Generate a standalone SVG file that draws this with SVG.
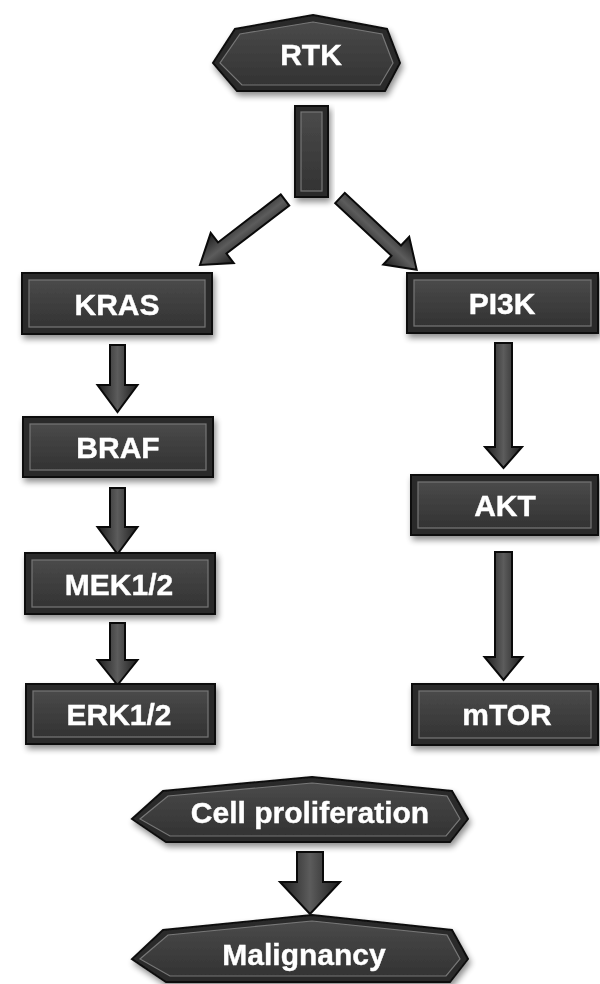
<svg xmlns="http://www.w3.org/2000/svg" width="600" height="984" viewBox="0 0 600 984">
<defs>
<filter id="sh" x="-20%" y="-20%" width="140%" height="150%">
<feGaussianBlur in="SourceAlpha" stdDeviation="3"/>
<feOffset dx="2" dy="4" result="b"/>
<feComponentTransfer><feFuncA type="linear" slope="0.45"/></feComponentTransfer>
<feMerge><feMergeNode/><feMergeNode in="SourceGraphic"/></feMerge>
</filter>
<linearGradient id="face" x1="0" y1="0" x2="0" y2="1">
<stop offset="0" stop-color="#4a4a4a"/>
<stop offset="1" stop-color="#333"/>
</linearGradient>
<linearGradient id="shaft" x1="0" y1="0" x2="1" y2="0">
<stop offset="0" stop-color="#1e1e1e"/>
<stop offset="0.5" stop-color="#5c5c5c"/>
<stop offset="1" stop-color="#1e1e1e"/>
</linearGradient>
</defs>
<style>
.frame{fill:#2b2b2b;stroke:#111;stroke-width:2}
.inner{fill:url(#face);stroke:#777;stroke-width:1.2}
.lbl{font-family:"Liberation Sans",Arial,sans-serif;font-weight:bold;font-size:30px;fill:#fff;text-anchor:middle;stroke:#fff;stroke-width:0.4}
.arr{fill:url(#shaft);stroke:#0a0a0a;stroke-width:2;stroke-linejoin:miter}
</style>
<rect width="600" height="984" fill="#fff"/>

<g id="connectors">
<g filter="url(#sh)">
<rect x="295" y="106" width="33" height="91" class="frame"/>
<rect x="301" y="112" width="21" height="79" class="inner"/>
</g>
<polygon class="arr" transform="translate(285,200) rotate(52.6)" points="-7,0 7,0 7,79 19,79 0,107 -19,79 -7,79"/>
<polygon class="arr" transform="translate(340,198) rotate(-46.9)" points="-7,0 7,0 7,77 19,77 0,105 -19,77 -7,77"/>
<polygon class="arr" transform="translate(117.5,345)" points="-7.5,0 7.5,0 7.5,40 20,40 0,67 -20,40 -7.5,40"/>
<polygon class="arr" transform="translate(117.5,488)" points="-7.5,0 7.5,0 7.5,39 20,39 0,66 -20,39 -7.5,39"/>
<polygon class="arr" transform="translate(117.5,623)" points="-7.5,0 7.5,0 7.5,37 20,37 0,62 -20,37 -7.5,37"/>
<polygon class="arr" transform="translate(503.5,343)" points="-8.5,0 8.5,0 8.5,104 18.5,104 0,125 -18.5,104 -8.5,104"/>
<polygon class="arr" transform="translate(503.5,552)" points="-8.5,0 8.5,0 8.5,105 19,105 0,128 -19,105 -8.5,105"/>
<polygon class="arr" transform="translate(310,852)" points="-13,0 13,0 13,30 30,30 0,62 -30,30 -13,30"/>
</g>

<g id="RTK" filter="url(#sh)">
<polygon class="frame" points="313,15 387,29 400,63 385,91 237,91 213,63 235,29"/>
<polygon class="inner" points="313,22 382,34 393,63 380,85 242,85 220,63 240,34"/>
<text class="lbl" x="311" y="65">RTK</text>
</g>

<g id="KRAS" filter="url(#sh)">
<rect class="frame" x="22" y="273" width="190" height="61"/>
<rect class="inner" x="29" y="280" width="176" height="47"/>
<text class="lbl" x="117" y="315">KRAS</text>
</g>
<g id="BRAF" filter="url(#sh)">
<rect class="frame" x="23" y="417" width="190" height="60"/>
<rect class="inner" x="30" y="424" width="176" height="46"/>
<text class="lbl" x="118" y="458">BRAF</text>
</g>
<g id="MEK" filter="url(#sh)">
<rect class="frame" x="25" y="553" width="190" height="61"/>
<rect class="inner" x="32" y="560" width="176" height="47"/>
<text class="lbl" x="119" y="595">MEK1/2</text>
</g>
<g id="ERK" filter="url(#sh)">
<rect class="frame" x="26" y="684" width="189" height="60"/>
<rect class="inner" x="33" y="691" width="175" height="46"/>
<text class="lbl" x="119" y="725">ERK1/2</text>
</g>
<g id="PI3K" filter="url(#sh)">
<rect class="frame" x="407" y="273" width="191" height="60"/>
<rect class="inner" x="414" y="280" width="177" height="46"/>
<text class="lbl" x="502" y="314">PI3K</text>
</g>
<g id="AKT" filter="url(#sh)">
<rect class="frame" x="411" y="475" width="187" height="60"/>
<rect class="inner" x="418" y="482" width="173" height="46"/>
<text class="lbl" x="505" y="516">AKT</text>
</g>
<g id="mTOR" filter="url(#sh)">
<rect class="frame" x="412" y="684" width="186" height="61"/>
<rect class="inner" x="419" y="691" width="172" height="47"/>
<text class="lbl" x="507" y="725">mTOR</text>
</g>

<g id="CellProliferation" filter="url(#sh)">
<polygon class="frame" points="312,777 452,791 468,819 450,842 166,842 132,819 163,791"/>
<polygon class="inner" points="312,783 447,796 460,819 446,836 170,836 140,819 168,796"/>
<text class="lbl" x="310" y="823">Cell proliferation</text>
</g>
<g id="Malignancy" filter="url(#sh)">
<polygon class="frame" points="312,915 452,930 468,959 450,982 166,982 132,959 163,930"/>
<polygon class="inner" points="312,921 447,935 460,959 446,976 170,976 140,959 168,935"/>
<text class="lbl" x="304" y="965">Malignancy</text>
</g>
</svg>
